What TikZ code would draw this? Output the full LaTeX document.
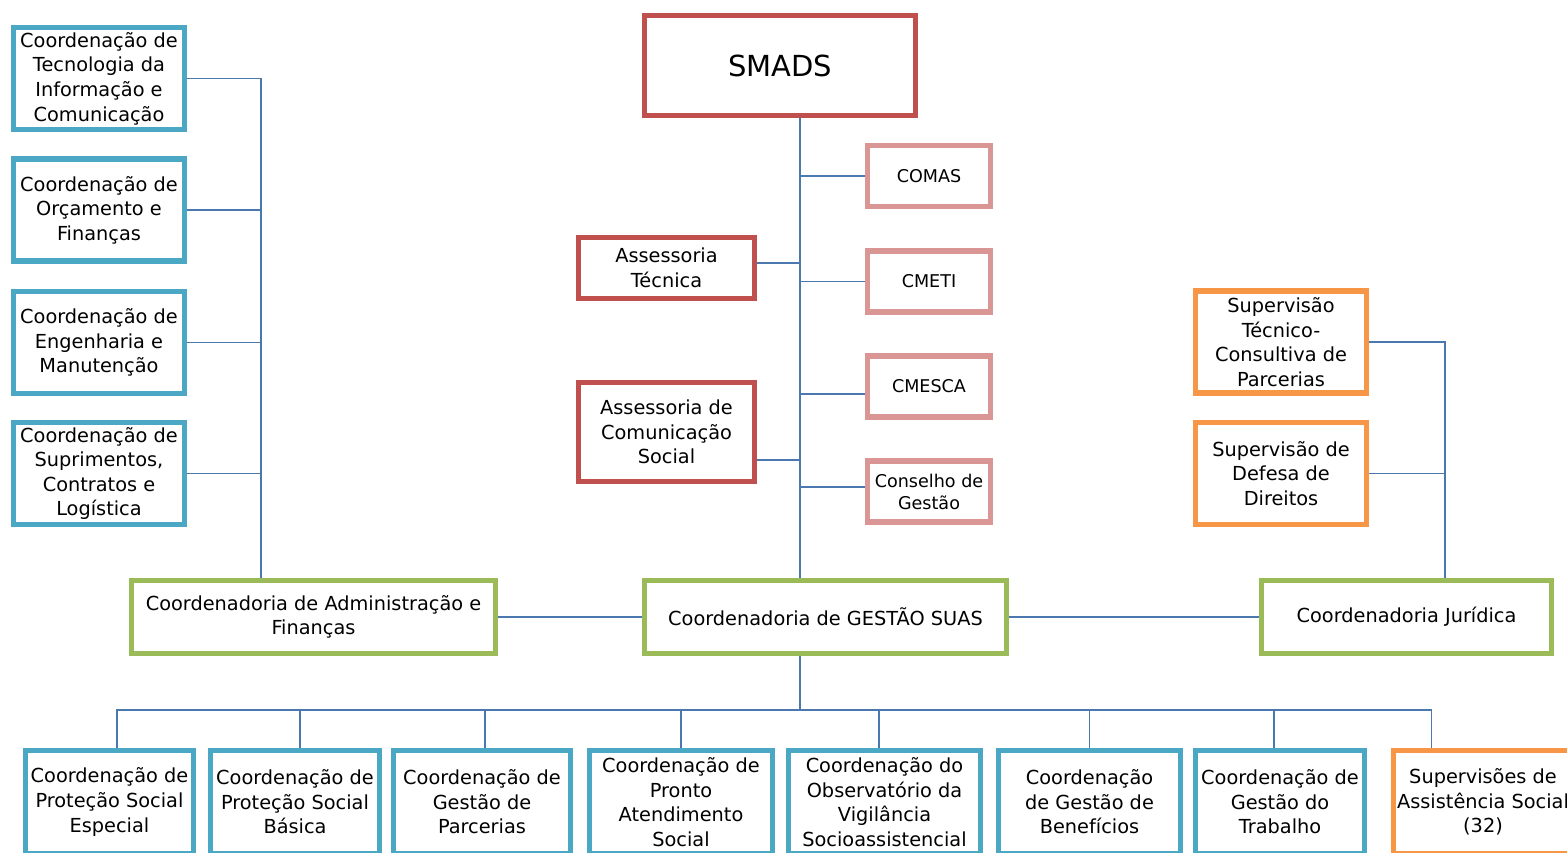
\documentclass[tikz,border=0pt]{standalone}
\usepackage{fontspec}
\setmainfont{DejaVu Sans}
\usetikzlibrary{calc}
\definecolor{boxteal}{RGB}{75,168,196}
\definecolor{boxred}{RGB}{192,80,77}
\definecolor{boxpink}{RGB}{217,150,148}
\definecolor{boxgreen}{RGB}{155,187,89}
\definecolor{boxorange}{RGB}{247,150,70}
\definecolor{linkblue}{RGB}{74,120,175}

\begin{document}
\begin{tikzpicture}[x=0.02cm, y=-0.02cm]
	\tikzset{
		my box/.style={
				draw, line width=2.9pt, fill=white, align=center, inner sep=1pt,
				font=\fontsize{11}{14}\selectfont,
			},
		coord box/.style={my box, draw=boxteal, minimum width=3.42cm, minimum height=2.04cm},
		head box/.style={my box, draw=boxred},
		council box/.style={my box, draw=boxpink, minimum width=2.46cm, minimum height=1.22cm,
				font=\fontsize{10}{12.5}\selectfont},
		main box/.style={my box, draw=boxgreen, minimum height=1.46cm},
		super box/.style={my box, draw=boxorange, minimum width=3.42cm, minimum height=2.04cm},
		link/.style={draw=linkblue, line width=0.8pt},
	}
	\useasboundingbox (0,0) rectangle (1567,852);
	\clip (0,0) rectangle (1567,852);
	%
	% top of the chart
	\node[head box, minimum width=5.42cm, minimum height=2.0cm,
		font=\fontsize{16.5}{20}\selectfont] (smads) at (780,65.5) {SMADS};
	\node[council box] (comas) at (929,176) {COMAS};
	\node[council box] (cmeti) at (929,281.5) {CMETI};
	\node[council box] (cmesca) at (929,386.5) {CMESCA};
	\node[council box] (cg) at (929,491.5) {Conselho de\\Gestão};
	\node[head box, minimum width=3.52cm, minimum height=1.22cm] (ast) at (666.5,268) {Assessoria\\Técnica};
	\node[head box, minimum width=3.52cm, minimum height=1.98cm] (ascom) at (666.5,432) {Assessoria de\\Comunicação\\Social};
	%
	% left column
	\node[coord box] (cti) at (99,78.5) {Coordenação de\\Tecnologia da\\Informação e\\Comunicação};
	\node[coord box] (cof) at (99,210) {Coordenação de\\Orçamento e\\Finanças};
	\node[coord box] (cem) at (99,342.5) {Coordenação de\\Engenharia e\\Manutenção};
	\node[coord box] (csc) at (99,473.5) {Coordenação de\\Suprimentos,\\Contratos e\\Logística};
	%
	% right column
	\node[super box] (stc) at (1281,342) {Supervisão\\Técnico-\\Consultiva de\\Parcerias};
	\node[super box] (sdd) at (1281,473.5) {Supervisão de\\Defesa de\\Direitos};
	%
	% coordenadorias
	\node[main box, minimum width=7.28cm] (adm) at (313.5,617) {Coordenadoria de Administração e\\Finanças};
	\node[main box, minimum width=7.24cm] (gsuas) at (825.5,617) {Coordenadoria de GESTÃO SUAS};
	\node[main box, minimum width=5.80cm] (jur) at (1406.5,617) {Coordenadoria Jurídica};
	%
	% bottom row
	\node[coord box, minimum width=3.36cm, minimum height=2.06cm] (pse) at (109.5,802) {Coordenação de\\Proteção Social\\Especial};
	\node[coord box, minimum width=3.38cm, minimum height=2.06cm] (psb) at (295,802) {Coordenação de\\Proteção Social\\Básica};
	\node[coord box, minimum width=3.54cm, minimum height=2.06cm] (cgp) at (482,802) {Coordenação de\\Gestão de\\Parcerias};
	\node[coord box, minimum width=3.66cm, minimum height=2.06cm] (cpa) at (681,802) {Coordenação de\\Pronto\\Atendimento\\Social};
	\node[coord box, minimum width=3.84cm, minimum height=2.06cm] (cov) at (884.5,802) {Coordenação do\\Observatório da\\Vigilância\\Socioassistencial};
	\node[coord box, minimum width=3.64cm, minimum height=2.06cm] (cgb) at (1089.5,802) {Coordenação\\de Gestão de\\Benefícios};
	\node[coord box, minimum width=3.38cm, minimum height=2.06cm] (cgt) at (1280,802) {Coordenação de\\Gestão do\\Trabalho};
	\node[super box, minimum width=3.58cm, minimum height=2.06cm] (sas) at (1483,802) {Supervisões de\\Assistência Social\\(32)};
	%
	\coordinate (tx) at (800,0);
	\coordinate (lx) at (261,0);
	\coordinate (rx) at (1445,0);
	\coordinate (bus) at (0,710);
	\coordinate (sasdrop) at ($(sas.north west)!0.22!(sas.north east)$);
	%
	\draw[link] (smads.south -| tx) -- (gsuas.north -| tx);
	\draw[link] (comas.west) -- (comas.west -| tx);
	\draw[link] (cmeti.west) -- (cmeti.west -| tx);
	\draw[link] ([yshift=-0.15cm]cmesca.west) -- ([yshift=-0.15cm]cmesca.west -| tx);
	\draw[link] ([yshift=0.09cm]cg.west) -- ([yshift=0.09cm]cg.west -| tx);
	\draw[link] ([yshift=0.1cm]ast.east) -- ([yshift=0.1cm]ast.east -| tx);
	\draw[link] ([yshift=-0.56cm]ascom.east) -- ([yshift=-0.56cm]ascom.east -| tx);
	%
	\draw[link] (cti.east) -- (cti.east -| lx) -- (adm.north -| lx);
	\draw[link] (cof.east) -- (cof.east -| lx);
	\draw[link] (cem.east) -- (cem.east -| lx);
	\draw[link] (csc.east) -- (csc.east -| lx);
	%
	\draw[link] (stc.east) -- (stc.east -| rx) -- (jur.north -| rx);
	\draw[link] (sdd.east) -- (sdd.east -| rx);
	%
	\draw[link] (adm.east) -- (gsuas.west);
	\draw[link] (gsuas.east) -- (jur.west);
	%
	\draw[link] (gsuas.south -| tx) -- (bus -| tx);
	\draw[link] ([xshift=0.15cm]pse.north) |- (bus -| sasdrop) -- (sasdrop);
	\draw[link] ([xshift=0.10cm]psb.north) -- ([xshift=0.10cm]psb.north |- bus);
	\draw[link] ([xshift=0.06cm]cgp.north) -- ([xshift=0.06cm]cgp.north |- bus);
	\draw[link] (cpa.north) -- (cpa.north |- bus);
	\draw[link] ([xshift=-0.11cm]cov.north) -- ([xshift=-0.11cm]cov.north |- bus);
	\draw[link] (cgb.north) -- (cgb.north |- bus);
	\draw[link] ([xshift=-0.12cm]cgt.north) -- ([xshift=-0.12cm]cgt.north |- bus);
\end{tikzpicture}
\end{document}
